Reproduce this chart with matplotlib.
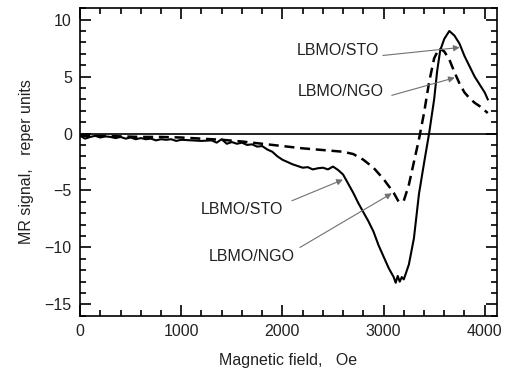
import matplotlib

matplotlib.use("Agg")
import matplotlib.pyplot as plt
from matplotlib.ticker import MultipleLocator

plt.rcParams["font.family"] = ["Liberation Sans", "DejaVu Sans"]
plt.rcParams["font.size"] = 11.5

# LBMO/STO film (solid line)
sto_field = [0, 50, 100, 150, 200, 250, 300, 350, 400, 450, 500, 550, 600, 650, 700,
             750, 800, 850, 900, 950, 1000, 1100, 1200, 1300, 1350, 1400, 1450, 1500,
             1550, 1600, 1650, 1700, 1750, 1800, 1850, 1900, 1950, 2000, 2050, 2100,
             2150, 2200, 2250, 2300, 2350, 2400, 2450, 2500, 2550,
             2600, 2650, 2700, 2750, 2800, 2850, 2900, 2950, 3000, 3050, 3100, 3120,
             3140, 3160, 3180, 3200, 3250, 3300, 3350, 3400, 3450, 3500, 3530, 3560,
             3600, 3650, 3700, 3750, 3800, 3850, 3900, 3950, 4000, 4030]
sto_signal = [-0.2, -0.45, -0.3, -0.2, -0.35, -0.25, -0.3, -0.4, -0.3, -0.45, -0.35,
              -0.5, -0.4, -0.5, -0.45, -0.6, -0.5, -0.55, -0.5, -0.65, -0.55, -0.6,
              -0.65, -0.6, -0.8, -0.5, -0.9, -0.75, -0.9, -0.8, -1.0, -0.95, -1.15,
              -1.1, -1.4, -1.6, -2.0, -2.3, -2.5, -2.7, -2.85, -3.0, -2.95, -3.15,
              -3.05, -3.0, -3.15, -2.9, -3.2, -3.6, -4.4, -5.2, -6.1, -6.9,
              -7.7, -8.6, -9.8, -10.8, -11.8, -12.6, -13.1, -12.5, -13.0, -12.6,
              -12.8, -11.5, -9.2, -5.3, -2.6, 0.0, 3.0, 5.5, 7.3, 8.3, 9.0, 8.6, 7.9,
              6.8, 5.9, 5.0, 4.3, 3.6, 3.0]

# LBMO/NGO film (dashed line)
ngo_field = [0, 200, 400, 600, 800, 1000, 1200, 1400, 1600, 1800, 2000, 2200, 2400,
             2600, 2700, 2800, 2900, 3000, 3050, 3100, 3150, 3200, 3250, 3300, 3350,
             3400, 3450, 3500, 3550, 3600, 3650, 3700, 3750, 3800, 3850, 3900, 3950,
             4030]
ngo_signal = [-0.2, -0.2, -0.25, -0.3, -0.3, -0.35, -0.45, -0.55, -0.7, -0.9, -1.1,
              -1.3, -1.45, -1.6, -1.8, -2.3, -3.0, -4.0, -4.6, -5.2, -6.0, -5.9, -4.5,
              -2.5, -0.5, 1.8, 4.5, 6.6, 7.5, 7.2, 6.5, 5.4, 4.4, 3.6, 3.1, 2.7, 2.4,
              1.8]

# label text, text centre, arrow start, arrow tip (data coords)
labels = [
    ("LBMO/STO", (2548, 7.3), (2993, 6.85), (3753, 7.55)),
    ("LBMO/NGO", (2578, 3.65), (3081, 3.35), (3704, 4.9)),
    ("LBMO/STO", (1595, -6.65), (2094, -5.9), (2598, -4.05)),
    ("LBMO/NGO", (1694, -10.8), (2173, -10.0), (3081, -5.25)),
]

fig = plt.figure(figsize=(5.07, 3.72), dpi=100)
ax = fig.add_axes([0.158, 0.151, 0.822, 0.827])

ax.axhline(0, color="black", linewidth=1.2)
ax.plot(sto_field, sto_signal, color="black", linewidth=1.5)
ax.plot(ngo_field, ngo_signal, color="black", linewidth=1.8,
        linestyle=(0, (4.0, 2.3)))

for text, pos, start, tip in labels:
    ax.text(pos[0], pos[1], text, ha="center", va="center", color="#222222")
    ax.annotate("", xy=tip, xytext=start,
                arrowprops=dict(arrowstyle="-|>", color="#707070", lw=0.8,
                                mutation_scale=9, shrinkA=0, shrinkB=0))

ax.set_xlim(0, 4120)
ax.set_ylim(-16, 11)
ax.xaxis.set_major_locator(MultipleLocator(1000))
ax.xaxis.set_minor_locator(MultipleLocator(200))
ax.yaxis.set_major_locator(MultipleLocator(5))
ax.yaxis.set_minor_locator(MultipleLocator(1))
ax.tick_params(which="both", direction="in", top=True, right=True, width=1.2)
ax.tick_params(which="major", length=8, pad=6, labelcolor="#222222")
ax.tick_params(which="minor", length=4)
for s in ax.spines.values():
    s.set_linewidth(1.2)

ax.set_xlabel("Magnetic field,   Oe", labelpad=10, color="#222222")
ax.set_ylabel("MR signal,   reper units", labelpad=8, color="#222222")

fig.savefig("out.png", dpi=100)
